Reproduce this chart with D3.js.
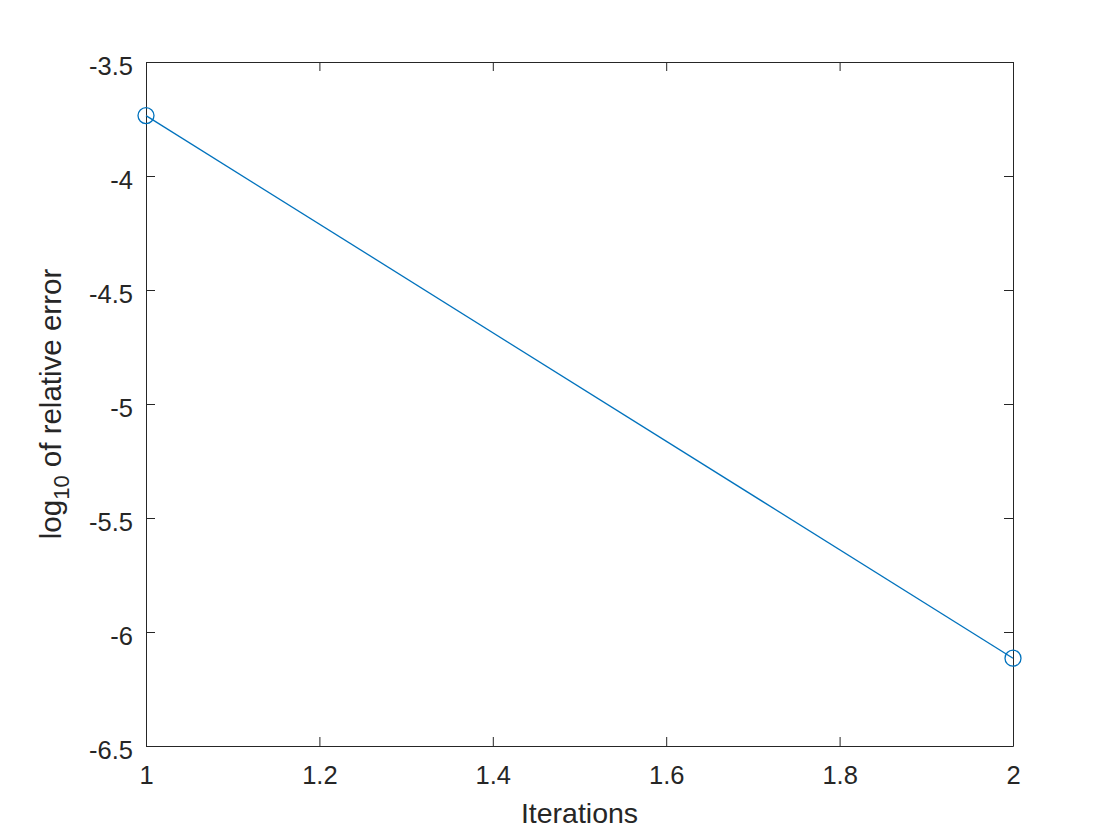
<!DOCTYPE html>
<html>
<head>
<meta charset="utf-8">
<script src="https://cdn.jsdelivr.net/npm/d3@7"></script>
<style>
  body { margin: 0; background: #fff; }
  svg text { font-family: "Liberation Sans", Arial, sans-serif; fill: #262626; }
</style>
</head>
<body>
<div id="chart"></div>
<script>
const iterations = [1, 2];
const logError = [-3.735, -6.115];
const xTicks = [1, 1.2, 1.4, 1.6, 1.8, 2];
const yTicks = [-3.5, -4, -4.5, -5, -5.5, -6, -6.5];

const width = 1120;
const height = 840;
const margin = {top: 62, right: 107, bottom: 94, left: 146};
const w = width - margin.left - margin.right;
const h = height - margin.top - margin.bottom;

const svg = d3.select("#chart")
  .append("svg")
    .attr("width", width)
    .attr("height", height)
  .append("g")
    .attr("transform", "translate(" + margin.left + "," + margin.top + ")");

const x = d3.scaleLinear().domain([1, 2]).range([0, w]);
const y = d3.scaleLinear().domain([-6.5, -3.5]).range([h, 0]);

const tickLen = 9;
const axisColor = "#262626";

function styleAxis(g, showLabels) {
  g.select(".domain").attr("stroke", axisColor);
  g.selectAll(".tick line").attr("stroke", axisColor);
  g.selectAll(".tick text")
    .style("font-size", "25.5px")
    .style("display", showLabels ? null : "none");
}

// bottom / left with labels, top / right only ticks (box)
svg.append("g")
  .attr("transform", "translate(0," + h + ")")
  .call(d3.axisBottom(x).tickValues(xTicks).tickSize(-tickLen).tickSizeOuter(0).tickPadding(20)
    .tickFormat(d3.format("")))
  .call(g => styleAxis(g, true));

svg.append("g")
  .call(d3.axisTop(x).tickValues(xTicks).tickSize(-tickLen).tickSizeOuter(0))
  .call(g => styleAxis(g, false));

svg.append("g")
  .call(d3.axisLeft(y).tickValues(yTicks).tickSize(-tickLen).tickSizeOuter(0).tickPadding(13)
    .tickFormat(d => String(d)))
  .call(g => styleAxis(g, true))
  .call(g => g.selectAll(".tick text").attr("dy", "0.47em"));

svg.append("g")
  .attr("transform", "translate(" + w + ",0)")
  .call(d3.axisRight(y).tickValues(yTicks).tickSize(-tickLen).tickSizeOuter(0))
  .call(g => styleAxis(g, false));

const data = iterations.map((d, i) => ({x: d, y: logError[i]}));

svg.append("path")
  .datum(data)
  .attr("fill", "none")
  .attr("stroke", "#0072BD")
  .attr("stroke-width", 1.3)
  .attr("d", d3.line().x(d => x(d.x)).y(d => y(d.y)));

svg.selectAll("circle.pt")
  .data(data)
  .enter()
  .append("circle")
    .attr("class", "pt")
    .attr("cx", d => x(d.x))
    .attr("cy", d => y(d.y))
    .attr("r", 8)
    .attr("fill", "none")
    .attr("stroke", "#0072BD")
    .attr("stroke-width", 1.3);

// axis labels
svg.append("text")
  .attr("x", w / 2)
  .attr("y", h + 77)
  .attr("text-anchor", "middle")
  .style("font-size", "28.5px")
  .text("Iterations");

const ylab = svg.append("text")
  .attr("transform", "translate(-85," + (h / 2) + ") rotate(-90)")
  .attr("text-anchor", "middle")
  .style("font-size", "29.5px");
ylab.append("tspan").text("log");
ylab.append("tspan").attr("dy", 8).style("font-size", "22px").text("10");
ylab.append("tspan").attr("dy", -8).text(" of relative error");
</script>
</body>
</html>
